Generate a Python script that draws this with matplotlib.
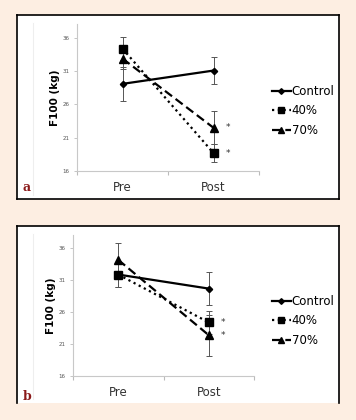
import matplotlib.pyplot as plt
from matplotlib.patches import Rectangle
from matplotlib.lines import Line2D

# %% Data
TIMES = ["Pre", "Post"]
GROUPS = ["Control", "40%", "70%"]
YTICKS = [16, 21, 26, 31, 36]

# panel a
A_MEAN = {"Control": [29.1, 31.1], "40%": [34.4, 18.7], "70%": [32.9, 22.5]}
A_ERR = {"Control": [2.6, 2.0], "40%": [1.7, 1.4], "70%": [1.6, 2.5]}
# panel b
B_MEAN = {"Control": [31.9, 29.7], "40%": [31.9, 24.4], "70%": [34.2, 22.4]}
B_ERR = {"Control": [2.0, 2.6], "40%": [1.9, 1.8], "70%": [2.6, 3.2]}

STYLE = {
    "Control": dict(ls="-", marker="D", ms=3.2),
    "40%": dict(ls=(0, (1, 1.6)), marker="s", ms=5.5),
    "70%": dict(ls=(0, (4, 2)), marker="^", ms=5.5),
}

W, H = 356, 420
BG = "#fdeee2"

fig = plt.figure(figsize=(W / 100, H / 100), dpi=100, facecolor=BG)


def fx(px):
    return px / W


def fy(py):
    return 1 - py / H


def panel(box, axbox, means, errs, legend_y, letter, letter_y, bottom=True):
    # white panel with black frame
    x0, y0, x1, y1 = box
    fig.patches.append(Rectangle((fx(x0), fy(y1)), fx(x1 - x0), (y1 - y0) / H,
                                 transform=fig.transFigure, facecolor="white",
                                 edgecolor="none", zorder=-5))
    frame = [[x0, x0], [y1, y0]], [[x0, x1], [y0, y0]], [[x1, x1], [y0, y1]]
    if bottom:
        frame = frame + ([[x0, x1], [y1, y1]],)
    for px, py in frame:
        fig.add_artist(Line2D([fx(p) for p in px], [fy(p) for p in py],
                              color="black", lw=1.2, zorder=-4))
    # faint left guide line
    fig.add_artist(Line2D([fx(33), fx(33)], [fy(y0 + 8), fy(y1 - 4)],
                          color="#eeeeee", lw=0.8, zorder=-4))

    l, t, r, b = axbox
    ax = fig.add_axes([fx(l), fy(b), fx(r - l), (b - t) / H])
    ax.set_facecolor("none")
    xs = [0.5, 1.5]
    for g in GROUPS:
        st = STYLE[g]
        ax.errorbar(xs, means[g], yerr=errs[g], fmt="none", ecolor="#555555",
                    elinewidth=0.7, capsize=2.2, capthick=0.7, zorder=2)
        ax.plot(xs, means[g], color="black", lw=1.6, ls=st["ls"],
                marker=st["marker"], ms=st["ms"], zorder=3, label=g)
    # significance marks at post
    for g in ["40%", "70%"]:
        ax.text(1.5 + 0.155, means[g][1], "*", fontsize=6.5, ha="center",
                va="center", color="#333333")

    ax.set_xlim(0, 2)
    ax.set_ylim(16, 38.1)
    ax.set_xticks([0, 1, 2])
    ax.set_xticklabels([])
    ax.set_xticks(xs, minor=True)
    ax.set_xticklabels(TIMES, minor=True, fontsize=8.5, color="#333333")
    ax.tick_params(axis="x", which="minor", length=0, pad=7)
    ax.tick_params(axis="x", which="major", length=3, color="#bbbbbb")
    ax.set_yticks(YTICKS)
    ax.tick_params(axis="y", labelsize=4, colors="#555555", length=2,
                   width=0.6)
    ax.tick_params(axis="y", color="#bbbbbb")
    for s in ["top", "right"]:
        ax.spines[s].set_visible(False)
    for s in ["left", "bottom"]:
        ax.spines[s].set_color("#c8c8c8")
        ax.spines[s].set_linewidth(0.8)
    ax.set_ylabel("F100 (kg)", fontsize=7.5, fontweight="bold", labelpad=2)

    handles = [Line2D([], [], color="black", lw=1.6, ls=STYLE[g]["ls"],
                      marker=STYLE[g]["marker"], ms=STYLE[g]["ms"] * 0.9)
               for g in GROUPS]
    fig.legend(handles, GROUPS, loc="upper left",
               bbox_to_anchor=(fx(267), fy(legend_y)), frameon=False,
               fontsize=8.5, handlelength=1.6, handletextpad=0.1,
               labelspacing=0.55, borderaxespad=0)

    fig.text(fx(27), fy(letter_y), letter, fontsize=9, fontweight="bold",
             family="DejaVu Serif", color="#8b1a1a", ha="center",
             va="baseline")
    return ax


panel((17, 15, 339, 199), (77, 24, 259, 171), A_MEAN, A_ERR, 80, "a", 191)
panel((17, 226, 339, 403), (73, 235, 254, 376), B_MEAN, B_ERR, 290, "b", 400,
      bottom=False)

fig.savefig("out.png", dpi=100, facecolor=BG)
